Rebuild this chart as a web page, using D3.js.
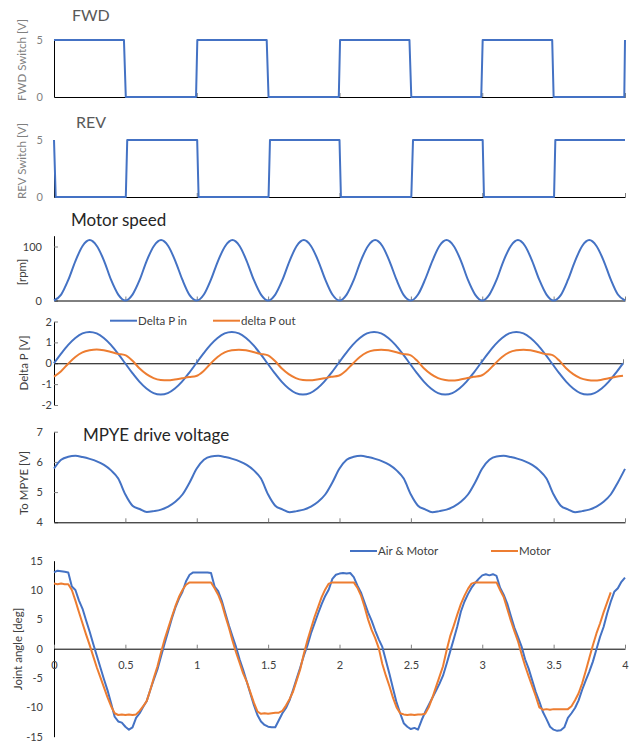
<!DOCTYPE html>
<html>
<head>
<meta charset="utf-8">
<script src="https://d3js.org/d3.v7.min.js"></script>
<style>
  html, body { margin: 0; padding: 0; background: #fff; overflow: hidden; }
  text { font-family: Lato, "Open Sans", sans-serif; }
  .domain { stroke: #000; stroke-width: 1; }
  .tick line { stroke: #7f7f7f; }
</style>
</head>
<body>
<svg id="chart" width="638" height="742"></svg>
<script>
// ---- data ----
// switch signals (breakpoints, seconds / volts)
var fwdTime = [0, 0.49, 0.503, 0.995, 1.004, 1.49, 1.503, 1.995, 2.004, 2.49, 2.503, 2.993, 3.003, 3.49, 3.5, 3.995, 4.0];
var fwdVolt = [5, 5, 0, 0, 5, 5, 0, 0, 5, 5, 0, 0, 5, 5, 0, 0, 5];
var revTime = [0, 0.012, 0.503, 0.513, 1.003, 1.013, 1.503, 1.513, 2.0, 2.01, 2.503, 2.515, 3.003, 3.012, 3.503, 3.512, 4.0];
var revVolt = [5, 0, 0, 5, 5, 0, 0, 5, 5, 0, 0, 5, 5, 0, 0, 5, 5];

// sampled every 0.05 s
var motorSpeed = [
  0, 11, 38, 73, 101, 112, 101, 74, 38, 11,
  0, 11, 38, 74, 101, 112, 101, 73, 38, 10,
  0, 11, 39, 74, 101, 112, 101, 73, 38, 11,
  0, 11, 38, 73, 101, 112, 101, 74, 39, 11,
  0, 11, 38, 74, 101, 112, 101, 73, 38, 10,
  0, 11, 39, 73, 101, 112, 101, 74, 38, 11,
  0, 11, 38, 74, 101, 112, 101, 73, 38, 11,
  0, 10, 38, 73, 101, 112, 101, 74, 39, 11,
  0];

var deltaPIn = [
  0, 0.46, 0.88, 1.21, 1.43, 1.5, 1.43, 1.21, 0.88, 0.46, 0, -0.46, -0.88, -1.21, -1.43, -1.5, -1.43, -1.21, -0.88, -0.46,
  0, 0.46, 0.88, 1.21, 1.43, 1.5, 1.43, 1.21, 0.88, 0.46, 0, -0.46, -0.88, -1.21, -1.43, -1.5, -1.43, -1.21, -0.88, -0.46,
  0, 0.46, 0.88, 1.21, 1.43, 1.5, 1.43, 1.21, 0.88, 0.46, 0, -0.46, -0.88, -1.21, -1.43, -1.5, -1.43, -1.21, -0.88, -0.46,
  0, 0.46, 0.88, 1.21, 1.43, 1.5, 1.43, 1.21, 0.88, 0.46, 0, -0.46, -0.88, -1.21, -1.43, -1.5, -1.43, -1.21, -0.88, -0.46,
  0];

var deltaPOut = [
  -0.64, -0.38, -0.02, 0.3, 0.52, 0.62, 0.66, 0.62, 0.54, 0.45, 0.39, 0.13, -0.24, -0.52, -0.71, -0.8, -0.82, -0.78, -0.72, -0.66,
  -0.61, -0.38, -0.02, 0.3, 0.52, 0.62, 0.65, 0.62, 0.54, 0.45, 0.39, 0.13, -0.24, -0.52, -0.71, -0.8, -0.82, -0.78, -0.72, -0.65,
  -0.6, -0.37, -0.02, 0.3, 0.52, 0.62, 0.65, 0.62, 0.54, 0.45, 0.4, 0.14, -0.24, -0.52, -0.71, -0.8, -0.83, -0.79, -0.72, -0.65,
  -0.6, -0.37, -0.02, 0.3, 0.52, 0.62, 0.65, 0.62, 0.54, 0.45, 0.4, 0.14, -0.24, -0.52, -0.71, -0.8, -0.83, -0.79, -0.72, -0.65,
  -0.6];

var mpyeVolt = [
  5.78, 6.07, 6.17, 6.2, 6.16, 6.1, 6.02, 5.9, 5.72, 5.45, 4.92, 4.55, 4.44, 4.34, 4.37, 4.42, 4.52, 4.68, 4.92, 5.32,
  5.78, 6.07, 6.18, 6.2, 6.16, 6.1, 6.02, 5.9, 5.72, 5.45, 4.92, 4.55, 4.43, 4.33, 4.37, 4.42, 4.52, 4.68, 4.92, 5.32,
  5.78, 6.07, 6.17, 6.2, 6.16, 6.1, 6.02, 5.9, 5.72, 5.45, 4.92, 4.55, 4.43, 4.33, 4.37, 4.42, 4.52, 4.68, 4.92, 5.32,
  5.78, 6.07, 6.18, 6.2, 6.16, 6.1, 6.02, 5.9, 5.72, 5.45, 4.92, 4.55, 4.43, 4.33, 4.37, 4.42, 4.52, 4.68, 4.92, 5.32,
  5.77];

// joint angle, sampled every 0.025 s
var jointAirMotor = [
  13.0, 13.3, 13.2, 13.1, 13.0, 10.6, 10.0, 8.2,
  6.8, 4.8, 2.9, 0.8, -1.2, -3.2, -5.2, -7.1,
  -9.3, -11.6, -12.4, -12.6, -13.3, -13.8, -13.4, -11.8,
  -11.0, -9.9, -8.9, -7.0, -5.2, -3.5, -1.3, 0.9,
  3.0, 5.1, 7.0, 8.5, 9.7, 11.5, 12.6, 13.0,
  13.0, 13.0, 13.0, 13.0, 12.9, 10.6, 9.8, 8.2,
  6.1, 4.0, 2.1, 0.3, -1.8, -3.6, -5.6, -7.6,
  -9.6, -11.3, -12.4, -13.0, -13.3, -13.4, -13.4, -12.2,
  -11.0, -10.1, -8.8, -7.0, -5.1, -3.2, -1.2, 0.5,
  2.6, 4.3, 6.0, 7.6, 9.0, 10.1, 11.9, 12.6,
  12.8, 12.9, 12.8, 12.9, 12.2, 10.8, 9.6, 7.9,
  6.2, 4.8, 3.1, 1.6, 0.3, -2.0, -4.3, -6.8,
  -9.2, -11.0, -12.7, -13.3, -13.7, -13.5, -13.8, -12.2,
  -10.8, -9.6, -8.4, -7.2, -6.0, -4.6, -2.6, -0.5,
  1.6, 3.8, 6.3, 8.0, 9.3, 10.4, 11.2, 11.9,
  12.5, 12.7, 12.5, 12.7, 12.4, 10.4, 9.2, 7.7,
  5.6, 3.6, 2.0, 0.4, -1.8, -3.4, -5.4, -7.4,
  -9.0, -10.8, -12.0, -13.3, -13.8, -14.0, -13.9, -13.4,
  -11.8, -11.0, -10.1, -8.8, -7.0, -5.4, -3.9, -2.2,
  -0.1, 2.0, 3.7, 6.0, 8.0, 9.7, 10.3, 11.4,
  12.1];

var jointMotor = [
  11.1, 11.0, 11.1, 11.0, 11.0, 10.0, 8.2, 6.2,
  4.3, 2.4, 0.6, -1.3, -3.2, -4.9, -6.6, -8.3,
  -9.8, -11.0, -11.3, -11.2, -11.3, -11.2, -11.3, -11.2,
  -10.6, -9.8, -8.9, -7.0, -4.9, -3.0, -0.6, 1.6,
  3.5, 5.4, 7.2, 8.8, 10.0, 10.9, 11.3, 11.3,
  11.3, 11.3, 11.3, 11.3, 11.3, 10.3, 9.2, 7.7,
  5.6, 3.6, 1.4, -0.6, -2.4, -4.2, -5.6, -7.4,
  -9.2, -10.7, -11.1, -11.0, -11.1, -11.0, -10.9, -10.9,
  -10.6, -9.7, -8.6, -7.3, -5.4, -3.5, -0.9, 1.4,
  3.4, 5.4, 7.1, 8.8, 10.1, 11.1, 11.3, 11.3,
  11.3, 11.3, 11.3, 11.3, 11.3, 10.4, 9.1, 7.2,
  5.0, 3.2, 1.8, 0.1, -2.6, -4.6, -6.4, -8.4,
  -10.0, -11.0, -11.2, -11.3, -11.2, -11.3, -11.2, -11.2,
  -11.1, -10.0, -8.4, -6.6, -4.8, -3.0, -0.3, 2.1,
  3.9, 5.8, 7.6, 9.0, 10.2, 11.1, 11.3, 11.3,
  11.3, 11.3, 11.3, 11.3, 11.3, 10.0, 8.8, 6.8,
  4.8, 3.0, 1.3, -0.9, -2.9, -4.7, -6.4, -8.1,
  -10.0, -10.4, -10.3, -10.4, -10.3, -10.3, -10.3, -10.3,
  -10.3, -9.8, -8.8, -7.6, -5.9, -3.8, -1.6, 0.6,
  2.6, 4.3, 6.2, 7.9, 9.6];

var timeTicks = ["0", "0.5", "1", "1.5", "2", "2.5", "3", "3.5", "4"];

var blue = "#4472C4", orange = "#ED7D31";

// ---- drawing ----
var svg = d3.select("#chart");

function pairs(times, vals) {
    return vals.map(function(v, i) { return [times[i], v]; });
}
function grid(vals, step) {
    return vals.map(function(v, i) { return [i * step, v]; });
}

function panel(cfg) {
    var x = d3.scaleLinear().domain([0, 4]).range([54, cfg.right || 625]);
    var y = d3.scaleLinear().domain(cfg.yDomain).range([cfg.bottom, cfg.top]);
    var g = svg.append("g");
    var textCol = cfg.light ? "#7f7f7f" : "#404040";

    // y axis
    var ya = d3.axisLeft(y).tickValues(cfg.yTicks)
        .tickSizeInner(cfg.yTickSize).tickSizeOuter(0).tickPadding(cfg.yPad)
        .tickFormat(function(d) { return String(d); });
    var yg = g.append("g").attr("transform", "translate(54,0)").call(ya);
    yg.selectAll("text").attr("font-size", 11).attr("fill", textCol)
        .attr("font-family", "Lato, sans-serif");

    // x axis at the given value
    var xa = d3.axisBottom(x).tickValues(cfg.xTicks)
        .tickSizeInner(-4).tickSizeOuter(0).tickPadding(13)
        .tickFormat(cfg.xLabels ? function(d, i) { return cfg.xLabels[i]; } : function() { return ""; });
    var xg = g.append("g").attr("transform", "translate(0," + y(cfg.xAt) + ")").call(xa);
    xg.selectAll("text").attr("font-size", 11).attr("fill", "#404040")
        .attr("font-family", "Lato, sans-serif");

    if (cfg.title) {
        g.append("text").attr("x", cfg.titleX).attr("y", cfg.titleY)
            .attr("font-size", cfg.titleSize).attr("fill", cfg.light ? "#595959" : "#262626")
            .text(cfg.title);
    }

    g.append("text")
        .attr("transform", "translate(" + cfg.labelX + "," + cfg.labelY + ") rotate(-90)")
        .attr("text-anchor", "middle").attr("dy", "0.35em")
        .attr("font-size", 11.5).attr("fill", textCol)
        .text(cfg.label);

    cfg.series.forEach(function(s) {
        var line = d3.line()
            .x(function(d) { return x(d[0]); })
            .y(function(d) { return y(d[1]); })
            .curve(s.curve || d3.curveLinear);
        g.append("path").datum(s.data)
            .attr("fill", "none").attr("stroke", s.color)
            .attr("stroke-width", 2).attr("stroke-linejoin", "round")
            .attr("d", line);
    });

    if (cfg.legend) {
        cfg.legend.forEach(function(l) {
            g.append("line").attr("x1", l.x).attr("x2", l.x + 27)
                .attr("y1", cfg.legendY).attr("y2", cfg.legendY)
                .attr("stroke", l.color).attr("stroke-width", 2);
            g.append("text").attr("x", l.x + 28).attr("y", cfg.legendY).attr("dy", "0.35em")
                .attr("font-size", 11.5).attr("fill", "#404040").text(l.name);
        });
    }
}

panel({
    top: 40, bottom: 97, yDomain: [0, 5], yTicks: [0, 5], yTickSize: 0, yPad: 11,
    xTicks: [1, 2, 3, 4], xAt: 0, light: true,
    title: "FWD", titleX: 72, titleY: 21, titleSize: 16,
    label: "FWD Switch [V]", labelX: 22, labelY: 60,
    series: [{ data: pairs(fwdTime, fwdVolt), color: blue }]
});

panel({
    top: 140, bottom: 197, yDomain: [0, 5], yTicks: [0, 5], yTickSize: 0, yPad: 11,
    xTicks: [1, 2, 3, 4], xAt: 0, light: true,
    title: "REV", titleX: 76, titleY: 128, titleSize: 16,
    label: "REV Switch [V]", labelX: 22, labelY: 161,
    series: [{ data: pairs(revTime, revVolt), color: blue }]
});

panel({
    top: 235.7, bottom: 300.5, yDomain: [0, 120], yTicks: [0, 100], yTickSize: -4, yPad: 12,
    xTicks: d3.range(0.5, 4.01, 0.5), xAt: 0,
    title: "Motor speed", titleX: 71, titleY: 226, titleSize: 17,
    label: "[rpm]", labelX: 22, labelY: 272,
    series: [{ data: grid(motorSpeed, 0.05), color: blue, curve: d3.curveMonotoneX }]
});

panel({
    top: 321.5, bottom: 405, yDomain: [-2, 2], yTicks: [-2, -1, 0, 1, 2], yTickSize: -4, yPad: 2,
    xTicks: [1, 2, 3, 4], xAt: 0, right: 623,
    label: "Delta P [V]", labelX: 24, labelY: 363,
    series: [
        { data: grid(deltaPIn, 0.05), color: blue, curve: d3.curveMonotoneX },
        { data: grid(deltaPOut, 0.05), color: orange, curve: d3.curveMonotoneX }
    ],
    legendY: 320.7,
    legend: [{ x: 110, name: "Delta P in", color: blue }, { x: 213, name: "delta P out", color: orange }]
});

panel({
    top: 431.7, bottom: 522.3, yDomain: [4, 7], yTicks: [4, 5, 6, 7], yTickSize: -4, yPad: 11,
    xTicks: d3.range(0.5, 4.01, 0.5), xAt: 4,
    title: "MPYE drive voltage", titleX: 83, titleY: 441, titleSize: 17,
    label: "To MPYE [V]", labelX: 24, labelY: 483,
    series: [{ data: grid(mpyeVolt, 0.05), color: blue, curve: d3.curveMonotoneX }]
});

panel({
    top: 560.7, bottom: 736.7, yDomain: [-15, 15], yTicks: [-15, -10, -5, 0, 5, 10, 15], yTickSize: 0, yPad: 11,
    xTicks: d3.range(0, 4.01, 0.5), xAt: 0, xLabels: timeTicks,
    label: "Joint angle [deg]", labelX: 18, labelY: 649,
    series: [
        { data: grid(jointAirMotor, 0.025), color: blue },
        { data: grid(jointMotor, 0.025), color: orange }
    ],
    legendY: 551,
    legend: [{ x: 350, name: "Air & Motor", color: blue }, { x: 491, name: "Motor", color: orange }]
});
</script>
</body>
</html>
